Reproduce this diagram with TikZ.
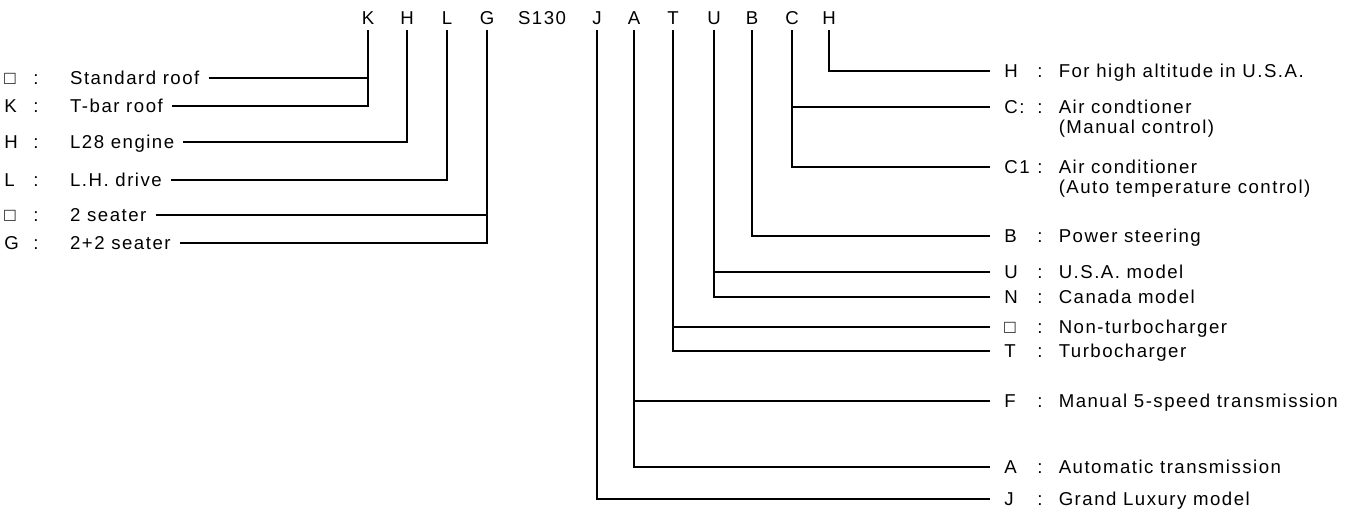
\documentclass[tikz,border=0pt]{standalone}
\usepackage{fontspec}
\setmainfont{Liberation Sans}[LetterSpace=8]
\usetikzlibrary{positioning}

\begin{document}
\begin{tikzpicture}[
    x=0.02cm, y=-0.02cm,
    every node/.style={font=\fontsize{10.6}{12.5}\selectfont},
    letter/.style={
        inner xsep=0pt,
        inner ysep=3pt,
        text height=1.4ex,
        text depth=0pt
    },
    code/.style={
        anchor=west,
        inner sep=0pt,
        text height=1.4ex,
        text depth=0pt
    },
    rcode/.style={
        code,
        inner xsep=0.28cm
    },
    colon/.style={
        inner sep=0pt,
        text height=1.4ex,
        text depth=0pt
    },
    desc/.style={
        anchor=west,
        inner xsep=5pt,
        inner ysep=0pt,
        text height=1.4ex,
        text depth=0pt
    },
    rdesc/.style={
        desc,
        inner xsep=2.5pt
    },
    link/.style={
        draw=black,
        line width=0.85pt
    }
]
    \useasboundingbox (0,0) rectangle (1351,515);

    % --- MODEL CODE ACROSS THE TOP ---
    \node[letter] (hK)   at (368, 18) {K};
    \node[letter] (hH)   at (407, 18) {H};
    \node[letter] (hL)   at (447, 18) {L};
    \node[letter] (hG)   at (487, 18) {G};
    \node[letter] (s130) at (542, 18) {S130};
    \node[letter] (hJ)   at (597, 18) {J};
    \node[letter] (hA)   at (634, 18) {A};
    \node[letter] (hT)   at (673, 18) {T};
    \node[letter] (hU)   at (714, 18) {U};
    \node[letter] (hB)   at (752, 18) {B};
    \node[letter] (hC)   at (792, 18) {C};
    \node[letter] (hHa)  at (829, 18) {H};

    % --- LEFT KEY (Y = 78 ... 243) ---
    \node[code]  (cStd)  at (4, 78)  {□};
    \node[colon] (kStd)  at (36, 78) {:};
    \node[desc]  (dStd)  at (61, 78) {Standard roof};

    \node[code]  (cTbar) at (4, 106)  {K};
    \node[colon] (kTbar) at (36, 106) {:};
    \node[desc]  (dTbar) at (61, 106) {T-bar roof};

    \node[code]  (cEng)  at (4, 142)  {H};
    \node[colon] (kEng)  at (36, 142) {:};
    \node[desc]  (dEng)  at (61, 142) {L28 engine};

    \node[code]  (cLhd)  at (4, 180)  {L};
    \node[colon] (kLhd)  at (36, 180) {:};
    \node[desc]  (dLhd)  at (61, 180) {L.H. drive};

    \node[code]  (cTwo)  at (4, 215)  {□};
    \node[colon] (kTwo)  at (36, 215) {:};
    \node[desc]  (dTwo)  at (61, 215) {2 seater};

    \node[code]  (cFour) at (4, 243)  {G};
    \node[colon] (kFour) at (36, 243) {:};
    \node[desc]  (dFour) at (61, 243) {2+2 seater};

    \draw[link] (hK.south) |- (dTbar.east);
    \draw[link] (dStd.east) -- (dStd.east -| hK.south);
    \draw[link] (hH.south) |- (dEng.east);
    \draw[link] (hL.south) |- (dLhd.east);
    \draw[link] (hG.south) |- (dFour.east);
    \draw[link] (dTwo.east) -- (dTwo.east -| hG.south);

    % --- RIGHT KEY (codes at X = 1004, texts at X = 1058) ---
    \node[rcode] (rAlt)  at (990, 71)  {H};
    \node[colon] (qAlt)  at (1040, 71) {:};
    \node[rdesc] (tAlt)  at (1054, 71) {For high altitude in U.S.A.};

    \node[rcode] (rAc)   at (990, 107)  {C:};
    \node[colon] (qAc)   at (1040, 107) {:};
    \node[rdesc] (tAc)   at (1054, 107) {Air condtioner};
    \node[rdesc] (tAcb)  at (1054, 127) {(Manual control)};

    \node[rcode] (rAcA)  at (990, 167)  {C1};
    \node[colon] (qAcA)  at (1040, 167) {:};
    \node[rdesc] (tAcA)  at (1054, 167) {Air conditioner};
    \node[rdesc] (tAcAb) at (1054, 187) {(Auto temperature control)};

    \node[rcode] (rPs)   at (990, 236)  {B};
    \node[colon] (qPs)   at (1040, 236) {:};
    \node[rdesc] (tPs)   at (1054, 236) {Power steering};

    \node[rcode] (rUsa)  at (990, 272)  {U};
    \node[colon] (qUsa)  at (1040, 272) {:};
    \node[rdesc] (tUsa)  at (1054, 272) {U.S.A. model};

    \node[rcode] (rCan)  at (990, 297)  {N};
    \node[colon] (qCan)  at (1040, 297) {:};
    \node[rdesc] (tCan)  at (1054, 297) {Canada model};

    \node[rcode] (rNt)   at (990, 327)  {□};
    \node[colon] (qNt)   at (1040, 327) {:};
    \node[rdesc] (tNt)   at (1054, 327) {Non-turbocharger};

    \node[rcode] (rTc)   at (990, 351)  {T};
    \node[colon] (qTc)   at (1040, 351) {:};
    \node[rdesc] (tTc)   at (1054, 351) {Turbocharger};

    \node[rcode] (rMt)   at (990, 401)  {F};
    \node[colon] (qMt)   at (1040, 401) {:};
    \node[rdesc] (tMt)   at (1054, 401) {Manual 5-speed transmission};

    \node[rcode] (rAt)   at (990, 467)  {A};
    \node[colon] (qAt)   at (1040, 467) {:};
    \node[rdesc] (tAt)   at (1054, 467) {Automatic transmission};

    \node[rcode] (rGl)   at (990, 499)  {J};
    \node[colon] (qGl)   at (1040, 499) {:};
    \node[rdesc] (tGl)   at (1054, 499) {Grand Luxury model};

    \draw[link] (hHa.south) |- (rAlt.west);
    \draw[link] (hC.south) |- (rAcA.west);
    \draw[link] (hC.south |- rAc.west) -- (rAc.west);
    \draw[link] (hB.south) |- (rPs.west);
    \draw[link] (hU.south) |- (rCan.west);
    \draw[link] (hU.south |- rUsa.west) -- (rUsa.west);
    \draw[link] (hT.south) |- (rTc.west);
    \draw[link] (hT.south |- rNt.west) -- (rNt.west);
    \draw[link] (hA.south) |- (rAt.west);
    \draw[link] (hA.south |- rMt.west) -- (rMt.west);
    \draw[link] (hJ.south) |- (rGl.west);

\end{tikzpicture}
\end{document}
